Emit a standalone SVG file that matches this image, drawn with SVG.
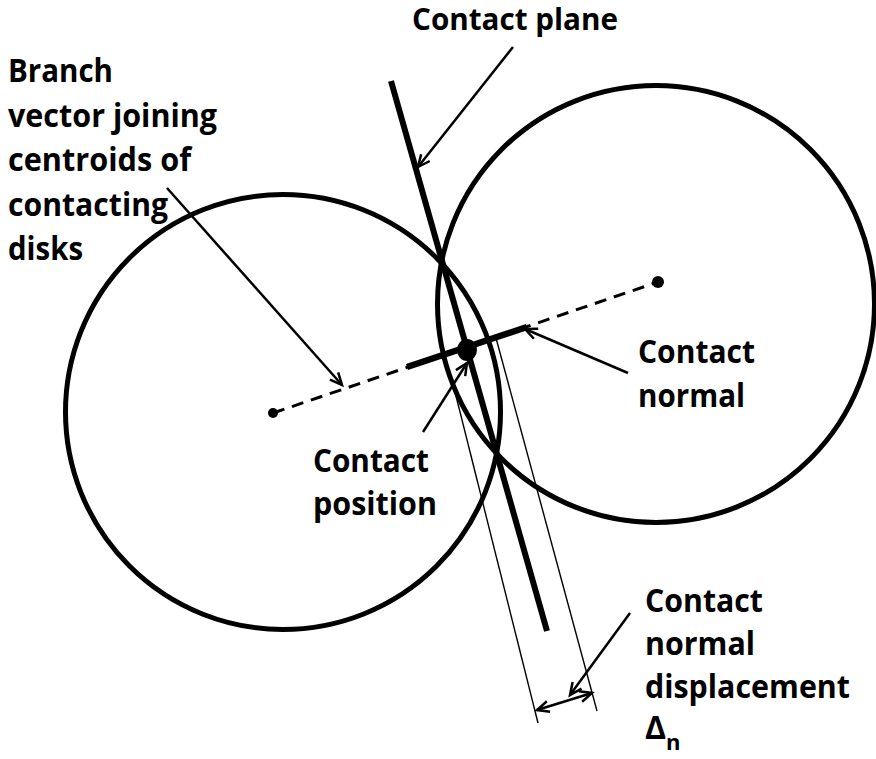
<svg xmlns="http://www.w3.org/2000/svg" width="876" height="759" viewBox="0 0 876 759">
<style>
.lbl{font-family:"Open Sans","Noto Sans","Liberation Sans",sans-serif;font-weight:700;font-size:32px;fill:#000}
.disk{fill:none;stroke:#000;stroke-width:5}
.ptr{fill:none;stroke:#000;stroke-width:2.5}
.thin{fill:none;stroke:#000;stroke-width:1.4}
</style>
<defs>
<marker id="ah" markerUnits="userSpaceOnUse" markerWidth="16" markerHeight="14" refX="13" refY="7" orient="auto-start-reverse">
<path d="M1,1.5 L13,7 L1,12.5" fill="none" stroke="#000" stroke-width="2.5"/>
</marker>
</defs>
<rect width="876" height="759" fill="#fff"/>
<g id="disk-left">
<circle class="disk" cx="283" cy="412" r="217.5"/>
<circle cx="273" cy="413" r="5"/>
</g>
<g id="disk-right">
<circle class="disk" cx="656" cy="304" r="218.5"/>
<circle cx="658" cy="282" r="6"/>
</g>
<g id="contact-plane">
<line x1="391" y1="81" x2="547" y2="631" stroke="#000" stroke-width="6"/>
</g>
<g id="displacement-lines">
<line class="thin" x1="452" y1="380" x2="538" y2="723"/>
<line class="thin" x1="496" y1="338" x2="597" y2="711"/>
</g>
<g id="branch-vector">
<line x1="273" y1="413" x2="658" y2="282" stroke="#000" stroke-width="3" stroke-dasharray="12 8"/>
</g>
<g id="contact-normal">
<line x1="407" y1="367" x2="527" y2="327" stroke="#000" stroke-width="6.5"/>
</g>
<g id="contact-point">
<ellipse cx="467" cy="350" rx="10" ry="11"/>
</g>
<g id="connectors">
<line class="ptr" x1="513" y1="47" x2="418" y2="167" marker-end="url(#ah)"/>
<line class="ptr" x1="167" y1="188" x2="342" y2="385" marker-end="url(#ah)"/>
<line class="ptr" x1="628" y1="373" x2="525" y2="329" marker-end="url(#ah)"/>
<line class="ptr" x1="423" y1="432" x2="467" y2="363" marker-end="url(#ah)"/>
<line class="ptr" x1="630" y1="613" x2="570" y2="695" marker-end="url(#ah)"/>
<line class="ptr" x1="537" y1="710" x2="592" y2="693" marker-start="url(#ah)" marker-end="url(#ah)"/>
</g>
<g id="label-contact-plane">
<text class="lbl" x="412" y="30" font-size="31" style="font-size:31px" textLength="206" lengthAdjust="spacingAndGlyphs">Contact plane</text>
</g>
<g id="label-branch">
<text class="lbl" x="8" y="82" textLength="105" lengthAdjust="spacingAndGlyphs">Branch</text>
<text class="lbl" x="8" y="126.5" textLength="209" lengthAdjust="spacingAndGlyphs">vector joining</text>
<text class="lbl" x="8" y="171" textLength="183" lengthAdjust="spacingAndGlyphs">centroids of</text>
<text class="lbl" x="8" y="215.5" textLength="160" lengthAdjust="spacingAndGlyphs">contacting</text>
<text class="lbl" x="8" y="260" textLength="75" lengthAdjust="spacingAndGlyphs">disks</text>
</g>
<g id="label-contact-normal">
<text class="lbl" x="638" y="363" textLength="117" lengthAdjust="spacingAndGlyphs">Contact</text>
<text class="lbl" x="638" y="407" textLength="107" lengthAdjust="spacingAndGlyphs">normal</text>
</g>
<g id="label-contact-position">
<text class="lbl" x="313" y="472" textLength="116" lengthAdjust="spacingAndGlyphs">Contact</text>
<text class="lbl" x="313" y="515" textLength="124" lengthAdjust="spacingAndGlyphs">position</text>
</g>
<g id="label-displacement">
<text class="lbl" x="645" y="612" textLength="118" lengthAdjust="spacingAndGlyphs">Contact</text>
<text class="lbl" x="645" y="655" textLength="110" lengthAdjust="spacingAndGlyphs">normal</text>
<text class="lbl" x="645" y="698" textLength="205" lengthAdjust="spacingAndGlyphs">displacement</text>
<text class="lbl" x="645" y="739">Δ<tspan font-size="22" dy="11">n</tspan></text>
</g>
</svg>
